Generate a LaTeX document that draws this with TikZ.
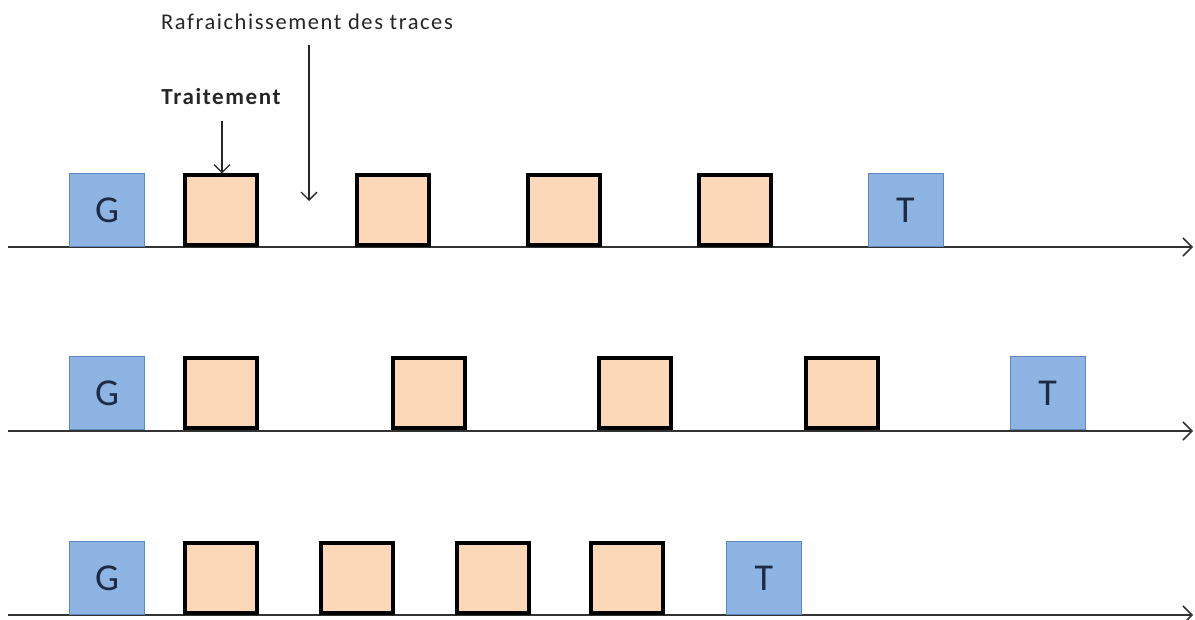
\documentclass[tikz,border=0pt]{standalone}
\usepackage{fontspec}
\setmainfont{Carlito}
\usetikzlibrary{arrows.meta}
\definecolor{gblue}{HTML}{8DB4E2}
\definecolor{gblueedge}{HTML}{5F88BE}
\definecolor{porange}{HTML}{FCD7B8}
\definecolor{gtext}{HTML}{1F2A44}
\tikzset{
  gbox/.style={draw=gblueedge, line width=1pt, fill=gblue, minimum width=75pt, minimum height=73pt, inner sep=0pt, font=\fontsize{38}{40}\selectfont, text=gtext},
  pbox/.style={draw=black, line width=4pt, fill=porange, minimum width=72pt, minimum height=70pt, inner sep=0pt},
  axis/.style={draw=black!80, line width=1.5pt, -{Straight Barb[length=9pt,width=18pt,line width=1.5pt]}},
  pointer/.style={draw=black!85, line width=1.3pt, -{Straight Barb[length=8pt,width=16pt,line width=1.3pt]}},
  lbl/.style={inner sep=0pt, text=black!85}
}
\begin{document}
\begin{tikzpicture}[x=1pt,y=-1pt]
\useasboundingbox (0,0) rectangle (1195,620);
% row 1
\coordinate (a1s) at (8,247); \coordinate (a1e) at (1193,247);
\draw[axis] (a1s) -- (a1e);
\node[gbox] (g1) at (107,210.5) {G};
\node[pbox] (p11) at (221,210.5) {};
\node[pbox] (p12) at (393,210.5) {};
\node[pbox] (p13) at (564,210.5) {};
\node[pbox] (p14) at (734.5,210.5) {};
\node[gbox] (t1) at (905.5,210.5) {T};
% row 2
\coordinate (a2s) at (8,431); \coordinate (a2e) at (1193,431);
\draw[axis] (a2s) -- (a2e);
\node[gbox] (g2) at (107,393.5) {G};
\node[pbox] (p21) at (221,393.5) {};
\node[pbox] (p22) at (429,393.5) {};
\node[pbox] (p23) at (634.5,393.5) {};
\node[pbox] (p24) at (841.5,393.5) {};
\node[gbox] (t2) at (1047.5,393.5) {T};
% row 3
\coordinate (a3s) at (8,615); \coordinate (a3e) at (1193,615);
\draw[axis] (a3s) -- (a3e);
\node[gbox] (g3) at (107,578) {G};
\node[pbox] (p31) at (221,578) {};
\node[pbox] (p32) at (357,578) {};
\node[pbox] (p33) at (492.5,578) {};
\node[pbox] (p34) at (626.5,578) {};
\node[gbox] (t3) at (764,578) {T};
% labels
\node[lbl, font=\fontsize{22.5}{24}\selectfont\addfontfeatures{LetterSpace=7}] (raf) at (307,22) {Rafraichissement des traces};
\coordinate (rafs) at (309,45);
\coordinate (rafe) at (309,201);
\draw[pointer] (rafs) -- (rafe);
\node[lbl, font=\bfseries\fontsize{23}{25}\selectfont\addfontfeatures{LetterSpace=7}] (trt) at (221,97) {Traitement};
\coordinate (trs) at (222,121);
\draw[pointer] (trs) -- (p11.north -| trs);
\end{tikzpicture}
\end{document}
